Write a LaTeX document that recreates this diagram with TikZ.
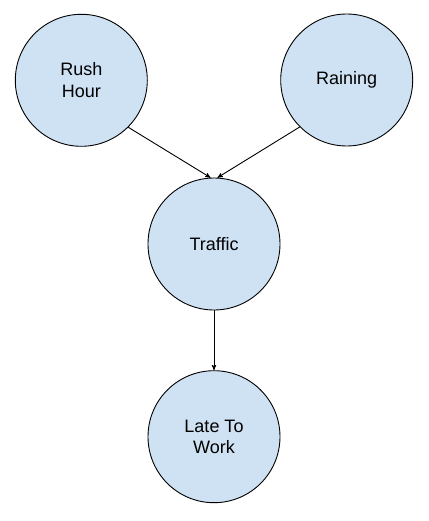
\documentclass[tikz,border=0pt]{standalone}
\usepackage{fontspec}
\setmainfont{Liberation Sans}
\usetikzlibrary{arrows}
\definecolor{nodeblue}{HTML}{CFE2F3}

\begin{document}
\begin{tikzpicture}[->,>=stealth',x=1pt,y=-1pt,node distance=192.7pt,
                    line width=0.9pt]
  \tikzstyle{every node}=[circle, draw=black, fill=nodeblue, minimum size=132pt,
                          inner sep=0pt, align=center, text=black,
                          font=\fontsize{18}{21.5}\selectfont]

  \useasboundingbox (0,0) rectangle (428,521);

  \node (R) at (81.3,80.3)      {Rush\\Hour};
  \node (W) at (346.7,80)       {Raining};
  \node (T) at (214,244)        {Traffic};
  \node (L) [below of=T]        {Late To\\Work};

  \draw (R.-45)  -- (T.93);
  \draw (W.-135) -- (T.87);
  \draw (T)      -- (L);
\end{tikzpicture}
\end{document}
